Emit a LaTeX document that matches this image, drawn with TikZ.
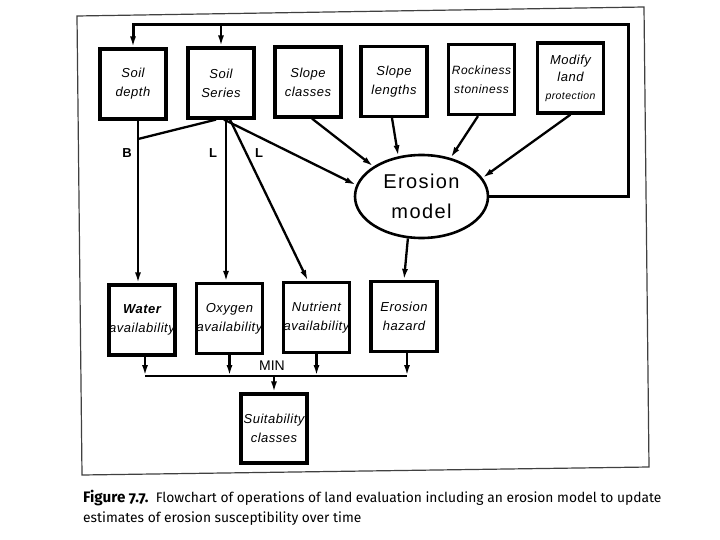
\documentclass[tikz,border=0pt]{standalone}
\usepackage{fontspec}
\usetikzlibrary{shapes.geometric,arrows.meta}
\newfontfamily\hvfont{Liberation Sans}
\newfontfamily\capfont[Numbers=OldStyle]{Fira Sans}
\tikzset{
  boxnode/.style={draw, line width=3.2pt, minimum width=66pt, minimum height=70pt,
    inner sep=0pt, align=center, font=\hvfont\itshape\fontsize{13}{19}\selectfont\addfontfeature{LetterSpace=4}},
  conn/.style={line width=2.3pt},
  arr/.style={conn, -{Latex[length=11pt,width=6pt]}},
  fb/.style={line width=3pt},
  lbl/.style={font=\hvfont\bfseries\fontsize{13}{15}\selectfont, inner sep=0pt},
}
\begin{document}
\begin{tikzpicture}[x=1pt,y=-1pt]
\useasboundingbox (0,0) rectangle (720,540);
\fill[white] (0,0) rectangle (720,540);
% outer frame
\draw[black!75, line width=1.2pt] (77,16) -- (644,7) -- (649,467) -- (82,475) -- cycle;

% top row
\node[boxnode] (sd) at (133,84) {Soil\\depth};
\node[boxnode] (ss) at (221,83) {Soil\\Series};
\node[boxnode] (sc) at (308,82) {Slope\\classes};
\node[boxnode] (sl) at (394,81.5) {Slope\\lengths};
\node[boxnode] (rs) at (481.5,79.5) {\fontsize{12}{19}\selectfont Rockiness\\\fontsize{12}{19}\selectfont stoniness};
\node[boxnode, font=\hvfont\itshape\fontsize{13}{17.5}\selectfont\addfontfeature{LetterSpace=4}] (ml) at (570.5,78) {Modify\\land\\\fontsize{10.5}{17.5}\selectfont protection};

% erosion model
\node[draw, ellipse, line width=2.6pt, minimum width=133pt, minimum height=83pt, inner sep=0pt,
  align=center, font=\hvfont\fontsize{20}{30}\selectfont\addfontfeature{LetterSpace=7}] (em) at (421.5,196.5) {Erosion\\model};

% bottom row
\node[boxnode] (wa) at (142,320) {\textbf{Water}\\availability};
\node[boxnode] (oa) at (229.5,318.5) {Oxygen\\availability};
\node[boxnode] (na) at (316.5,317.5) {Nutrient\\availability};
\node[boxnode] (eh) at (404,316.5) {Erosion\\hazard};
\node[boxnode, minimum height=69pt] (su) at (274,428.5) {Suitability\\classes};

% feedback loop
\coordinate (fbr) at (628,25);
\coordinate (fbs) at (221,25);
\draw[fb, -{Latex[length=11pt,width=6pt]}] (em.east) -| (fbr) -| (sd.north);
\draw[arr] (fbs) -- (ss.north);

% soil connections
\coordinate (bj) at (138,139);
\draw[arr] (sd.south -| bj) -- (wa.north -| bj);
\draw[conn] ([xshift=-5pt]ss.south) -- (bj);
\draw[arr] ([xshift=5pt]ss.south) -- ([xshift=-3.5pt]oa.north);
\draw[arr] ([xshift=9pt]ss.south) -- ([xshift=-8.5pt]na.north);
\draw[arr] ([xshift=3pt]ss.south) -- (em.170);

% inputs to erosion model
\draw[arr] ([xshift=4pt]sc.south) -- (em.148);
\draw[arr] ([xshift=-2pt]sl.south) -- (em.120);
\draw[arr] ([xshift=-3.5pt]rs.south) -- (em.53);
\draw[arr] (ml.south) -- (em.17);
\draw[arr] (em.252) -- (eh.north);

% labels
\node[lbl] (lb) at (127,153) {B};
\node[lbl] (ll1) at (213,153) {L};
\node[lbl] (ll2) at (259,153) {L};

% MIN bus
\coordinate (busl) at (145,376);
\coordinate (busr) at (407,376);
\draw[conn] (busl) -- (busr);
\draw[arr] (wa.south -| busl) -- (busl);
\draw[arr] (oa.south) -- (oa.south |- busl);
\draw[arr] (na.south) -- (na.south |- busl);
\draw[arr] (eh.south -| busr) -- (busr);
\draw[arr] (su.north |- busl) -- (su.north);
\node[font=\hvfont\fontsize{14}{16}\selectfont, inner sep=0pt] (min) at (272,366) {MIN};

% caption
\node[anchor=west, inner sep=0pt, font=\capfont\fontsize{13.8}{16}\selectfont] (cap1) at (83,498)
  {{\fontsize{15.2}{16}\selectfont\textbf{Figure 7.7.}}\ \ Flowchart of operations of land evaluation including an erosion model to update};
\node[anchor=west, inner sep=0pt, font=\capfont\fontsize{13.8}{16}\selectfont] (cap2) at (83,519)
  {estimates of erosion susceptibility over time};
\end{tikzpicture}
\end{document}
